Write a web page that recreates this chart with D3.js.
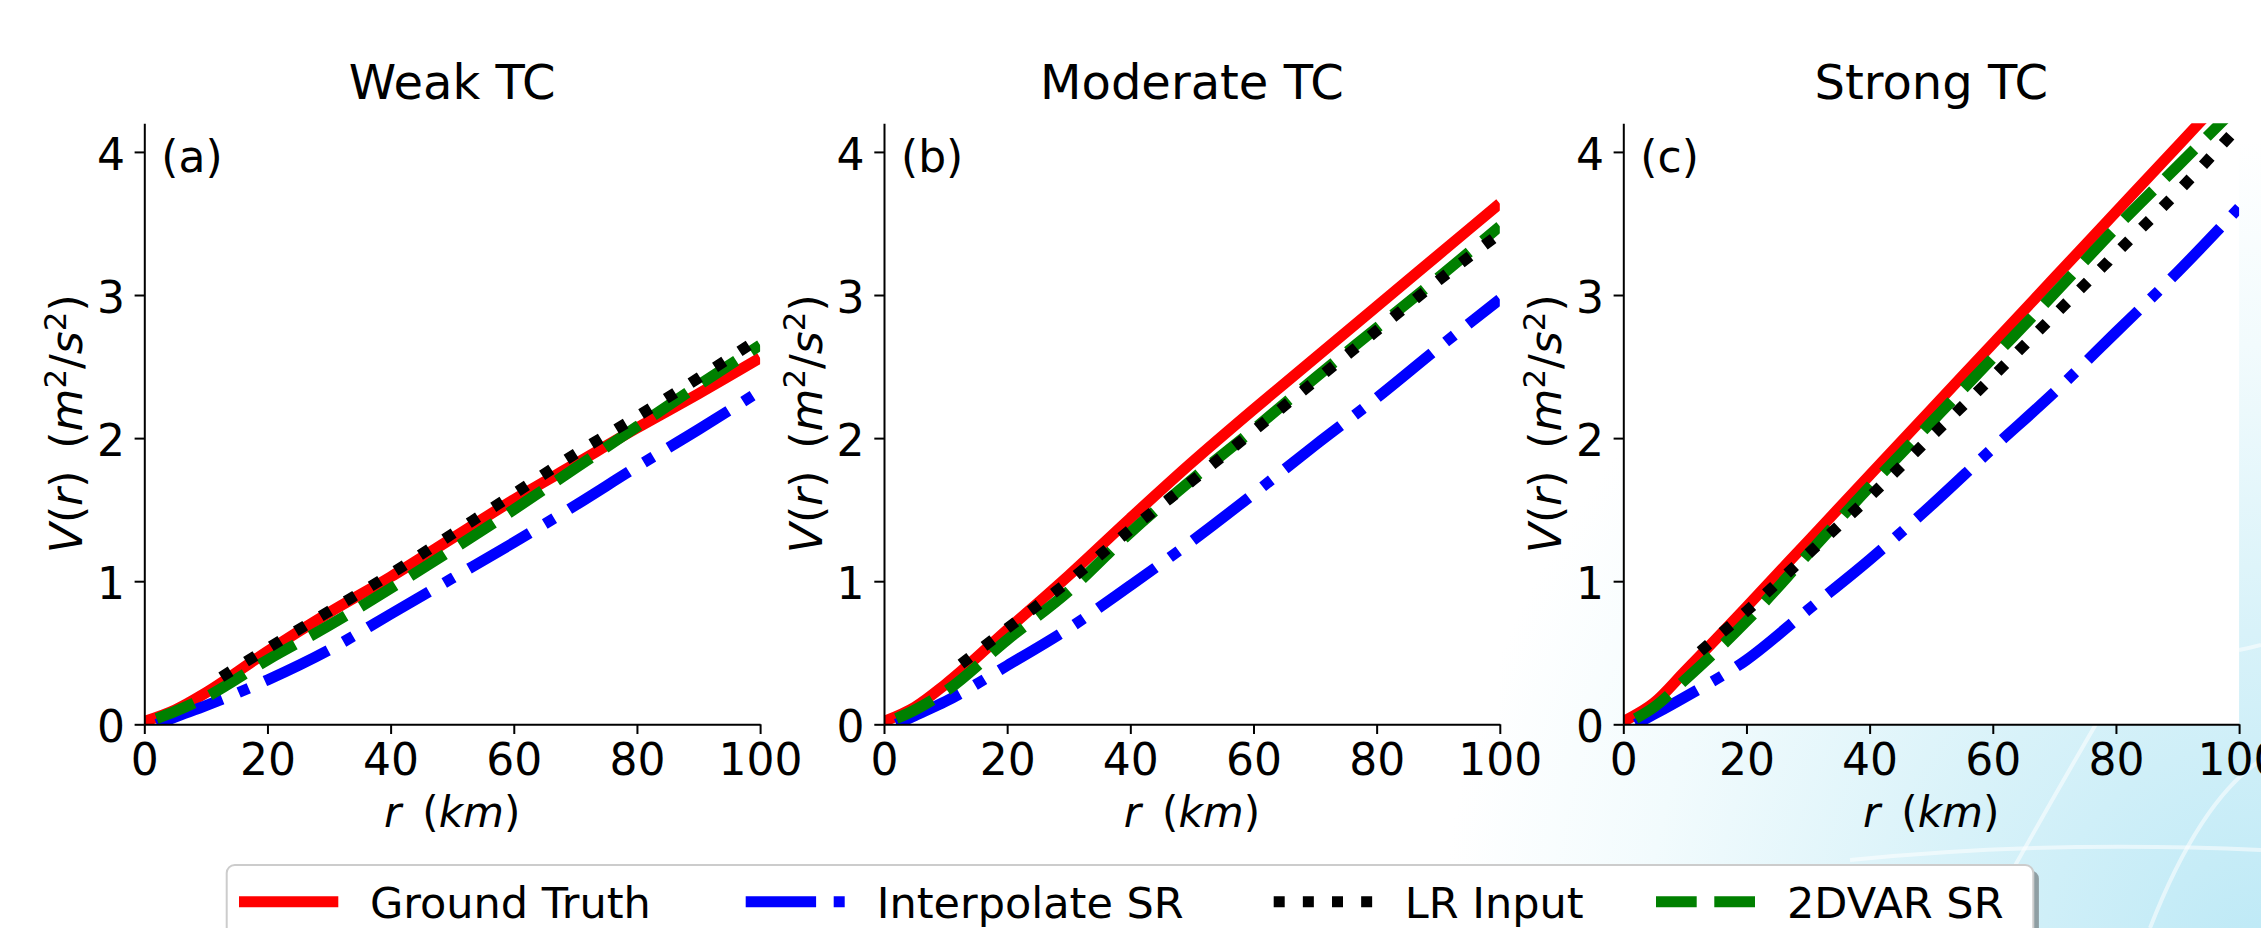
<!DOCTYPE html>
<html>
<head>
<meta charset="utf-8">
<script src="https://cdn.jsdelivr.net/npm/d3@7"></script>
<style>
  body { margin: 0; background: #fff; }
  text { font-family: "DejaVu Sans", sans-serif; fill: #000; }
</style>
</head>
<body>
<svg id="chart" width="2261" height="928"></svg>
<script>

// radial positions (km)
var truthRadii = [0, 5, 10, 20, 30, 40, 50, 60, 70, 80, 90, 100];
var srRadii    = [2, 5, 10, 20, 30, 40, 50, 60, 70, 80, 90, 100];
var lrRadii    = [12.5, 20, 30, 40, 50, 60, 70, 80, 90, 100];

// weak TC
var weakTruth  = [0.02, 0.10, 0.22, 0.51, 0.78, 1.03, 1.30, 1.57, 1.82, 2.07, 2.31, 2.56];
var weakInterp = [0.00, 0.05, 0.13, 0.31, 0.52, 0.77, 1.02, 1.27, 1.53, 1.80, 2.06, 2.33];
var weakLR     = [0.33, 0.53, 0.79, 1.05, 1.33, 1.61, 1.89, 2.15, 2.42, 2.70];
var weak2dvar  = [0.04, 0.09, 0.19, 0.45, 0.69, 0.95, 1.22, 1.50, 1.79, 2.08, 2.37, 2.65];

// moderate TC
var modTruth  = [0.02, 0.12, 0.28, 0.66, 1.04, 1.44, 1.83, 2.20, 2.56, 2.92, 3.28, 3.64];
var modInterp = [0.00, 0.06, 0.16, 0.41, 0.67, 0.97, 1.28, 1.61, 1.95, 2.28, 2.63, 2.97];
var modLR     = [0.42, 0.67, 1.00, 1.36, 1.70, 2.05, 2.40, 2.75, 3.10, 3.43];
var mod2dvar  = [0.04, 0.10, 0.23, 0.59, 0.93, 1.34, 1.71, 2.06, 2.42, 2.77, 3.12, 3.48];

// strong TC
var strongTruth  = [0.02, 0.15, 0.37, 0.82, 1.28, 1.74, 2.20, 2.66, 3.12, 3.58, 4.04, 4.50];
var strongInterp = [0.00, 0.07, 0.19, 0.45, 0.80, 1.15, 1.53, 1.93, 2.32, 2.74, 3.16, 3.61];
var strongLR     = [0.51, 0.79, 1.19, 1.59, 2.01, 2.43, 2.86, 3.29, 3.72, 4.18];
var strong2dvar  = [0.04, 0.12, 0.31, 0.72, 1.19, 1.66, 2.11, 2.56, 3.01, 3.47, 3.90, 4.33];

var panelTitles = ["Weak TC", "Moderate TC", "Strong TC"];
var panelTags = ["(a)", "(b)", "(c)"];
var seriesNames = ["Ground Truth", "Interpolate SR", "LR Input", "2DVAR SR"];
var xTicks = [0, 20, 40, 60, 80, 100];
var yTicks = [0, 1, 2, 3, 4];


var lw = 11;
var styles = {
  "Ground Truth":   { color: "#ff0000", dash: null },
  "Interpolate SR": { color: "#0000ff", dash: [6.4, 1.6, 1, 1.6].map(function(d){ return d*lw; }).join(" ") },
  "LR Input":       { color: "#000000", dash: [1, 1.65].map(function(d){ return d*lw; }).join(" ") },
  "2DVAR SR":       { color: "#008000", dash: [3.7, 1.6].map(function(d){ return d*lw; }).join(" ") }
};

function pairs(rs, vs) {
  return rs.map(function(r, i){ return { r: r, v: vs[i] }; });
}

var panels = [
  { truth: weakTruth, interp: weakInterp, lr: weakLR, dvar: weak2dvar },
  { truth: modTruth, interp: modInterp, lr: modLR, dvar: mod2dvar },
  { truth: strongTruth, interp: strongInterp, lr: strongLR, dvar: strong2dvar }
].map(function(p, i) {
  return {
    title: panelTitles[i],
    tag: panelTags[i],
    // drawing order: truth, interp, 2dvar, then LR dots on top
    series: [
      { name: "Ground Truth", pts: pairs(truthRadii, p.truth) },
      { name: "Interpolate SR", pts: pairs(srRadii, p.interp) },
      { name: "2DVAR SR", pts: pairs(srRadii, p.dvar) },
      { name: "LR Input", pts: pairs(lrRadii, p.lr) }
    ]
  };
});

var svg = d3.select("#chart");

// soft blue backdrop in the lower right corner
var defs = svg.append("defs");
var grad = defs.append("radialGradient")
  .attr("id", "bgGrad")
  .attr("gradientUnits", "userSpaceOnUse")
  .attr("cx", 2261).attr("cy", 960).attr("r", 820);
grad.append("stop").attr("offset", "0").attr("stop-color", "#bde9f6");
grad.append("stop").attr("offset", "0.4").attr("stop-color", "#d8f2f9");
grad.append("stop").attr("offset", "0.75").attr("stop-color", "#f2fbfd");
grad.append("stop").attr("offset", "1").attr("stop-color", "#ffffff");

svg.append("rect").attr("width", 2261).attr("height", 928).attr("fill", "#fff");
svg.append("rect").attr("width", 2261).attr("height", 928).attr("fill", "url(#bgGrad)");

var streaks = [
  "M1980,928 Q2040,820 2110,700",
  "M1850,860 Q2050,840 2261,850",
  "M2150,928 Q2200,800 2261,760",
  "M2239,650 Q2250,648 2261,645"
];
svg.selectAll("path.streak").data(streaks).enter().append("path")
  .attr("class", "streak")
  .attr("d", function(d){ return d; })
  .attr("fill", "none")
  .attr("stroke", "#ffffff")
  .attr("stroke-opacity", 0.55)
  .attr("stroke-width", 4);

var plotTop = 123.3, plotBottom = 724.3, plotW = 615.8;
var plotH = plotBottom - plotTop;
var panelX = [144.3, 884, 1623.3];

var x = d3.scaleLinear().domain([0, 100]).range([0, plotW]);
var y = d3.scaleLinear().domain([0, 4.2]).range([plotH, 0]);

var line = d3.line()
  .x(function(d){ return x(d.r); })
  .y(function(d){ return y(d.v); })
  .curve(d3.curveMonotoneX);

function mathText(sel, parts, fs) {
  var sup = fs * 0.38;
  parts.forEach(function(p) {
    var t = sel.append("tspan").text(p.t);
    if (p.i) t.attr("font-style", "italic");
    if (p.sup) {
      t.attr("font-size", fs * 0.7).attr("dy", -sup);
    } else if (p.after) {
      t.attr("dy", sup);
    }
  });
}

var ylabParts = [
  { t: "V", i: true }, { t: "(" }, { t: "r", i: true }, { t: ")\u2002(" },
  { t: "m", i: true }, { t: "2", sup: true }, { t: "/", after: true },
  { t: "s", i: true }, { t: "2", sup: true }, { t: ")", after: true }
];
var xlabParts = [ { t: "r", i: true }, { t: "\u2002(" }, { t: "km", i: true }, { t: ")" } ];

panels.forEach(function(p, i) {
  var g = svg.append("g").attr("transform", "translate(" + panelX[i] + "," + plotTop + ")");

  g.append("rect").attr("width", plotW).attr("height", plotH).attr("fill", "#fff");

  defs.append("clipPath").attr("id", "clip" + i)
    .append("rect").attr("width", plotW).attr("height", plotH);

  var lines = g.append("g").attr("clip-path", "url(#clip" + i + ")");
  lines.selectAll("path").data(p.series).enter().append("path")
    .attr("d", function(d){ return line(d.pts); })
    .attr("fill", "none")
    .attr("stroke", function(d){ return styles[d.name].color; })
    .attr("stroke-width", lw)
    .attr("stroke-dasharray", function(d){ return styles[d.name].dash; })
    .attr("stroke-linecap", "butt")
    .attr("stroke-linejoin", "round");

  var xAxis = g.append("g")
    .attr("transform", "translate(0," + plotH + ")")
    .call(d3.axisBottom(x).tickValues(xTicks).tickFormat(d3.format("d"))
      .tickSize(9.7).tickSizeOuter(0).tickPadding(9.7));
  var yAxis = g.append("g")
    .call(d3.axisLeft(y).tickValues(yTicks).tickFormat(d3.format("d"))
      .tickSize(9.7).tickSizeOuter(0).tickPadding(9.7));

  [xAxis, yAxis].forEach(function(a) {
    a.attr("font-family", null).attr("font-size", null);
    a.select(".domain").attr("stroke", "#000").attr("stroke-width", 2);
    a.selectAll(".tick line").attr("stroke", "#000").attr("stroke-width", 2);
    a.selectAll(".tick text").attr("font-size", 44).attr("fill", "#000");
  });
  yAxis.selectAll(".tick text").attr("dy", "0.4em");

  g.append("text")
    .attr("x", plotW / 2).attr("y", 98.7 - plotTop)
    .attr("text-anchor", "middle")
    .attr("font-size", 48)
    .text(p.title);

  g.append("text")
    .attr("x", 17).attr("y", 171.7 - plotTop)
    .attr("font-size", 44)
    .text(p.tag);

  var xl = g.append("text")
    .attr("x", plotW / 2).attr("y", 827 - plotTop)
    .attr("text-anchor", "middle")
    .attr("font-size", 42);
  mathText(xl, xlabParts, 42);

  var yl = g.append("text")
    .attr("transform", "translate(-62," + (plotH / 2) + ") rotate(-90)")
    .attr("text-anchor", "middle")
    .attr("font-size", 44);
  mathText(yl, ylabParts, 44);
});

// legend
var legX = 226.7, legY = 865, legW = 1806.6, legH = 100;
var legend = svg.append("g");
legend.append("rect")
  .attr("x", legX + 5.6).attr("y", legY + 5.6)
  .attr("width", legW).attr("height", legH).attr("rx", 8)
  .attr("fill", "#4d4d4d").attr("fill-opacity", 0.5);
legend.append("rect")
  .attr("x", legX).attr("y", legY)
  .attr("width", legW).attr("height", legH).attr("rx", 8)
  .attr("fill", "#fff").attr("stroke", "#cccccc").attr("stroke-width", 2);

var legItemX = [239, 745.7, 1273.7, 1656];
var items = legend.selectAll("g.item").data(seriesNames).enter().append("g")
  .attr("class", "item")
  .attr("transform", function(d, i){ return "translate(" + legItemX[i] + ",0)"; });
items.append("line")
  .attr("x1", 0).attr("x2", 99.3)
  .attr("y1", 901.7).attr("y2", 901.7)
  .attr("stroke", function(d){ return styles[d].color; })
  .attr("stroke-width", lw)
  .attr("stroke-dasharray", function(d){ return styles[d].dash; });
items.append("text")
  .attr("x", 131).attr("y", 917.7)
  .attr("font-size", 43)
  .text(function(d){ return d; });

</script>
</body>
</html>
